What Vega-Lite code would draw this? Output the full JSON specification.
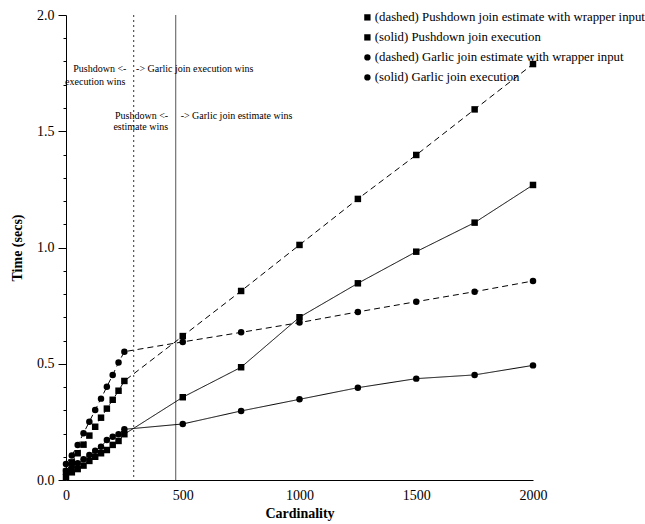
{
  "$schema": "https://vega.github.io/schema/vega-lite/v6.json",
  "width": 467,
  "height": 465,
  "autosize": "none",
  "padding": {"left": 66, "top": 15, "right": 112, "bottom": 44},
  "config": {"font": "Liberation Serif", "view": {"stroke": null}},
  "datasets": {
    "series": [
      {"s": "(dashed) Pushdown join estimate with wrapper input", "x": 0, "t": 0.036},
      {"s": "(dashed) Pushdown join estimate with wrapper input", "x": 25, "t": 0.076},
      {"s": "(dashed) Pushdown join estimate with wrapper input", "x": 50, "t": 0.115},
      {"s": "(dashed) Pushdown join estimate with wrapper input", "x": 75, "t": 0.152},
      {"s": "(dashed) Pushdown join estimate with wrapper input", "x": 100, "t": 0.191},
      {"s": "(dashed) Pushdown join estimate with wrapper input", "x": 125, "t": 0.229},
      {"s": "(dashed) Pushdown join estimate with wrapper input", "x": 150, "t": 0.268},
      {"s": "(dashed) Pushdown join estimate with wrapper input", "x": 175, "t": 0.307},
      {"s": "(dashed) Pushdown join estimate with wrapper input", "x": 200, "t": 0.345},
      {"s": "(dashed) Pushdown join estimate with wrapper input", "x": 225, "t": 0.384},
      {"s": "(dashed) Pushdown join estimate with wrapper input", "x": 250, "t": 0.426},
      {"s": "(dashed) Pushdown join estimate with wrapper input", "x": 500, "t": 0.619},
      {"s": "(dashed) Pushdown join estimate with wrapper input", "x": 750, "t": 0.813},
      {"s": "(dashed) Pushdown join estimate with wrapper input", "x": 1000, "t": 1.011},
      {"s": "(dashed) Pushdown join estimate with wrapper input", "x": 1250, "t": 1.209},
      {"s": "(dashed) Pushdown join estimate with wrapper input", "x": 1500, "t": 1.398},
      {"s": "(dashed) Pushdown join estimate with wrapper input", "x": 1750, "t": 1.594},
      {"s": "(dashed) Pushdown join estimate with wrapper input", "x": 2000, "t": 1.789},
      {"s": "(solid) Pushdown join execution", "x": 0, "t": 0.012},
      {"s": "(solid) Pushdown join execution", "x": 25, "t": 0.033},
      {"s": "(solid) Pushdown join execution", "x": 50, "t": 0.047},
      {"s": "(solid) Pushdown join execution", "x": 75, "t": 0.062},
      {"s": "(solid) Pushdown join execution", "x": 100, "t": 0.082},
      {"s": "(solid) Pushdown join execution", "x": 125, "t": 0.100},
      {"s": "(solid) Pushdown join execution", "x": 150, "t": 0.115},
      {"s": "(solid) Pushdown join execution", "x": 175, "t": 0.129},
      {"s": "(solid) Pushdown join execution", "x": 200, "t": 0.151},
      {"s": "(solid) Pushdown join execution", "x": 225, "t": 0.168},
      {"s": "(solid) Pushdown join execution", "x": 250, "t": 0.197},
      {"s": "(solid) Pushdown join execution", "x": 500, "t": 0.356},
      {"s": "(solid) Pushdown join execution", "x": 750, "t": 0.485},
      {"s": "(solid) Pushdown join execution", "x": 1000, "t": 0.700},
      {"s": "(solid) Pushdown join execution", "x": 1250, "t": 0.846},
      {"s": "(solid) Pushdown join execution", "x": 1500, "t": 0.982},
      {"s": "(solid) Pushdown join execution", "x": 1750, "t": 1.107},
      {"s": "(solid) Pushdown join execution", "x": 2000, "t": 1.269},
      {"s": "(dashed) Garlic join estimate with wrapper input", "x": 0, "t": 0.069},
      {"s": "(dashed) Garlic join estimate with wrapper input", "x": 25, "t": 0.105},
      {"s": "(dashed) Garlic join estimate with wrapper input", "x": 50, "t": 0.151},
      {"s": "(dashed) Garlic join estimate with wrapper input", "x": 75, "t": 0.201},
      {"s": "(dashed) Garlic join estimate with wrapper input", "x": 100, "t": 0.251},
      {"s": "(dashed) Garlic join estimate with wrapper input", "x": 125, "t": 0.301},
      {"s": "(dashed) Garlic join estimate with wrapper input", "x": 150, "t": 0.350},
      {"s": "(dashed) Garlic join estimate with wrapper input", "x": 175, "t": 0.401},
      {"s": "(dashed) Garlic join estimate with wrapper input", "x": 200, "t": 0.452},
      {"s": "(dashed) Garlic join estimate with wrapper input", "x": 225, "t": 0.505},
      {"s": "(dashed) Garlic join estimate with wrapper input", "x": 250, "t": 0.552},
      {"s": "(dashed) Garlic join estimate with wrapper input", "x": 500, "t": 0.594},
      {"s": "(dashed) Garlic join estimate with wrapper input", "x": 750, "t": 0.635},
      {"s": "(dashed) Garlic join estimate with wrapper input", "x": 1000, "t": 0.677},
      {"s": "(dashed) Garlic join estimate with wrapper input", "x": 1250, "t": 0.723},
      {"s": "(dashed) Garlic join estimate with wrapper input", "x": 1500, "t": 0.767},
      {"s": "(dashed) Garlic join estimate with wrapper input", "x": 1750, "t": 0.810},
      {"s": "(dashed) Garlic join estimate with wrapper input", "x": 2000, "t": 0.856},
      {"s": "(solid) Garlic join execution", "x": 0, "t": 0.040},
      {"s": "(solid) Garlic join execution", "x": 25, "t": 0.055},
      {"s": "(solid) Garlic join execution", "x": 50, "t": 0.072},
      {"s": "(solid) Garlic join execution", "x": 75, "t": 0.089},
      {"s": "(solid) Garlic join execution", "x": 100, "t": 0.108},
      {"s": "(solid) Garlic join execution", "x": 125, "t": 0.126},
      {"s": "(solid) Garlic join execution", "x": 150, "t": 0.143},
      {"s": "(solid) Garlic join execution", "x": 175, "t": 0.172},
      {"s": "(solid) Garlic join execution", "x": 200, "t": 0.186},
      {"s": "(solid) Garlic join execution", "x": 225, "t": 0.197},
      {"s": "(solid) Garlic join execution", "x": 250, "t": 0.218},
      {"s": "(solid) Garlic join execution", "x": 500, "t": 0.241},
      {"s": "(solid) Garlic join execution", "x": 750, "t": 0.297},
      {"s": "(solid) Garlic join execution", "x": 1000, "t": 0.347},
      {"s": "(solid) Garlic join execution", "x": 1250, "t": 0.397},
      {"s": "(solid) Garlic join execution", "x": 1500, "t": 0.436},
      {"s": "(solid) Garlic join execution", "x": 1750, "t": 0.452},
      {"s": "(solid) Garlic join execution", "x": 2000, "t": 0.493}
    ],
    "notes": [
      {"label": "Pushdown <-", "x": 31, "t": 1.768},
      {"label": "execution wins", "x": -4, "t": 1.711},
      {"label": "-> Garlic join execution wins", "x": 300, "t": 1.768},
      {"label": "Pushdown <-", "x": 210, "t": 1.567},
      {"label": "estimate wins", "x": 203, "t": 1.520},
      {"label": "-> Garlic join estimate wins", "x": 491, "t": 1.567}
    ]
  },
  "encoding": {
    "x": {"field": "x", "type": "quantitative"},
    "y": {"field": "t", "type": "quantitative"}
  },
  "resolve": {
    "legend": {"shape": "independent", "strokeDash": "independent"},
    "axis": {"y": "independent"}
  },
  "layer": [
    {
      "data": {"values": [{"x": 290}]},
      "mark": {"type": "rule", "color": "#333", "strokeWidth": 1, "strokeDash": [2, 3]},
      "encoding": {"x": {"field": "x", "type": "quantitative"}, "y": null}
    },
    {
      "data": {"values": [{"x": 470}]},
      "mark": {"type": "rule", "color": "#555", "strokeWidth": 1},
      "encoding": {"x": {"field": "x", "type": "quantitative"}, "y": null}
    },
    {
      "data": {"name": "series"},
      "mark": {"type": "line", "color": "black", "strokeWidth": 1},
      "encoding": {
        "x": {
          "field": "x", "type": "quantitative",
          "scale": {"domain": [0, 2000], "nice": false, "zero": false},
          "axis": {
            "title": "Cardinality", "values": [0, 500, 1000, 1500, 2000], "format": "d",
            "ticks": false, "grid": false, "labelFontSize": 14, "labelPadding": 8,
            "labelColor": "black", "domainColor": "black", "titleColor": "black",
            "titleFontSize": 14, "titleFontWeight": "bold", "titlePadding": 4, "labelFlush": false
          }
        },
        "y": {
          "field": "t", "type": "quantitative",
          "scale": {"domain": [0, 2], "nice": false},
          "axis": {
            "orient": "left",
            "title": "Time (secs)",
            "values": [0, 0.5, 1.0, 1.5, 2.0],
            "format": ".1f",
            "tickSize": 8,
            "grid": false, "labelFontSize": 14, "labelPadding": 4, "labelColor": "black",
            "domainColor": "black", "tickColor": "black", "titleColor": "black",
            "titleFontSize": 14, "titleFontWeight": "bold", "titlePadding": 12, "labelFlush": false
          }
        },
        "detail": {"field": "s", "type": "nominal"},
        "strokeDash": {
          "field": "s", "type": "nominal", "legend": null,
          "scale": {
            "domain": ["(dashed) Pushdown join estimate with wrapper input", "(solid) Pushdown join execution", "(dashed) Garlic join estimate with wrapper input", "(solid) Garlic join execution"],
            "range": [[6, 4], [1, 0], [6, 4], [1, 0]]
          }
        }
      }
    },
    {
      "data": {"name": "series"},
      "mark": {"type": "point", "filled": true, "color": "black", "opacity": 1, "size": 42},
      "encoding": {
        "y": {"field": "t", "type": "quantitative", "axis": null},
        "shape": {
          "field": "s", "type": "nominal", "title": null,
          "scale": {
            "domain": ["(dashed) Pushdown join estimate with wrapper input", "(solid) Pushdown join execution", "(dashed) Garlic join estimate with wrapper input", "(solid) Garlic join execution"],
            "range": ["square", "square", "circle", "circle"]
          },
          "legend": {
            "orient": "none", "legendX": 295, "legendY": -4,
            "labelFontSize": 12.8, "labelColor": "black", "labelLimit": 400,
            "symbolFillColor": "black", "symbolStrokeColor": "black", "symbolSize": 40,
            "symbolOpacity": 1, "rowPadding": 6, "labelOffset": 1, "padding": 0
          }
        }
      }
    },
    {
      "data": {"name": "notes"},
      "mark": {"type": "text", "fontSize": 10, "align": "left", "baseline": "middle", "color": "black"},
      "encoding": {
        "y": {
          "field": "t", "type": "quantitative",
          "axis": {
            "orient": "left", "title": null, "labels": false, "domain": false, "grid": false,
            "values": [0.1, 0.2, 0.3, 0.4, 0.6, 0.7, 0.8, 0.9, 1.1, 1.2, 1.3, 1.4, 1.6, 1.7, 1.8, 1.9],
            "tickSize": 3, "tickColor": "black"
          }
        },
        "text": {"field": "label", "type": "nominal"}
      }
    }
  ]
}
